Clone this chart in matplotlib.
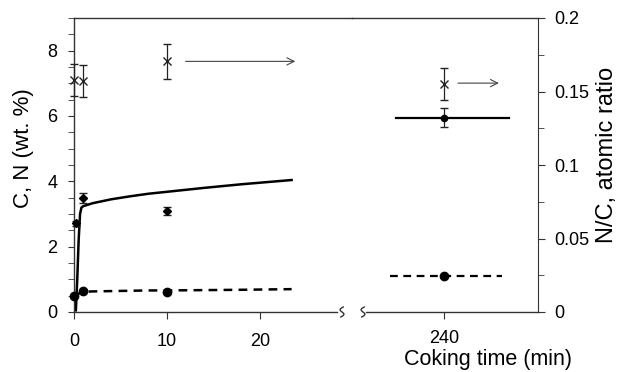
import numpy as np
import matplotlib
matplotlib.use('Agg')
import matplotlib.pyplot as plt

plt.rcParams['font.family'] = ['Liberation Sans', 'DejaVu Sans']
plt.rcParams['font.size'] = 13

# measured points, short coking times (min)
c_t = [0.2, 1, 10]
c_wt = [2.72, 3.49, 3.09]
c_err = [0.08, 0.15, 0.12]
n_t = [0, 1, 10]
n_wt = [0.49, 0.63, 0.60]
nc_t = [0, 1, 10]
nc_ratio = [0.158, 0.157, 0.1705]
nc_err = [0.011, 0.011, 0.012]

# measured points at 240 min
t_long = [240]
c_long = [5.95]
c_long_err = [0.29]
n_long = [1.1]
nc_long = [0.155]
nc_long_err = [0.011]

# model curves
model_t = [0.2, 0.35, 0.5, 0.65, 0.8, 1, 2, 4, 6, 8, 10, 14, 18, 23.4]
model_c = [0.05, 1.0, 2.2, 3.0, 3.2, 3.24, 3.33, 3.45, 3.54, 3.62, 3.68, 3.8, 3.91, 4.04]
model_n = [0.45, 0.52, 0.56, 0.59, 0.61, 0.62, 0.63, 0.64, 0.65, 0.66, 0.66, 0.67, 0.68, 0.70]
model_long_c_t = [234.8, 247.0]
model_long_c = [5.95, 5.95]
model_long_n_t = [234.2, 246.2]
model_long_n = [1.1, 1.1]

W, H = 619, 372
fig = plt.figure(figsize=(W / 100, H / 100), dpi=100)

x0, xb, x1 = 74, 352, 538
ytop, ybot = 18, 312
bottom = (H - ybot) / H
height = (ybot - ytop) / H
scale = 9.3  # px per minute
ax1 = fig.add_axes([x0 / W, bottom, (xb - x0) / W, height])
ax2 = fig.add_axes([xb / W, bottom, (x1 - xb) / W, height])
xlim1 = (0, (xb - x0) / scale)
xlim2 = (240 - (444 - xb) / scale, 240 + (x1 - 444) / scale)

for ax in (ax1, ax2):
    ax.set_ylim(0, 9)
    ax.patch.set_visible(False)
    for s in ax.spines.values():
        s.set_linewidth(1.0)
        s.set_color('#333333')
ax1.set_xlim(*xlim1)
ax2.set_xlim(*xlim2)

ax1.spines['right'].set_visible(False)
ax2.spines['left'].set_visible(False)
ax2.spines['right'].set_visible(False)
ax1.spines['bottom'].set_bounds(0, (337 - x0) / scale)
ax2.spines['bottom'].set_bounds(xlim2[0] + (366 - xb) / scale, xlim2[1])

ax1.set_yticks([0, 2, 4, 6, 8])
ax1.set_yticks(np.arange(0, 9.01, 0.5), minor=True)
ax1.set_xticks([0, 10, 20])
ax1.tick_params(axis='y', which='both', direction='out', length=4, pad=8, color='#333333')
ax1.tick_params(axis='x', direction='out', length=5, pad=10, color='#333333')
ax2.set_yticks([])
ax2.set_xticks([240])
ax2.tick_params(axis='x', direction='out', length=5, pad=8, color='#333333')

# ratio axes
r1 = ax1.twinx()
r1.set_ylim(0, 0.2)
r1.set_xlim(*xlim1)
r1.axis('off')
r2 = ax2.twinx()
r2.set_ylim(0, 0.2)
r2.set_xlim(*xlim2)
for k in ['left', 'top', 'bottom']:
    r2.spines[k].set_visible(False)
r2.spines['right'].set_color('#333333')
r2.set_yticks([0, 0.05, 0.1, 0.15, 0.2])
r2.set_yticklabels(['0', '0.05', '0.1', '0.15', '0.2'])
r2.set_yticks(np.arange(0, 0.201, 0.025), minor=True)
r2.tick_params(axis='y', which='major', direction='out', length=5, pad=7, color='#333333')
r2.tick_params(axis='y', which='minor', direction='out', length=4, color='#333333')

# model curves
ax1.plot(model_t, model_c, '-', color='black', lw=1.8)
ax1.plot(model_t, model_n, '--', color='black', lw=1.8, dashes=(3.5, 2.5))
ax2.plot(model_long_c_t, model_long_c, '-', color='black', lw=1.6)
ax2.plot(model_long_n_t, model_long_n, '--', color='black', lw=1.6, dashes=(3.5, 2.5))

# data
ax1.errorbar(c_t, c_wt, yerr=c_err, fmt='D', ms=4.5, color='black', ecolor='#222222',
             elinewidth=0.9, capsize=3, clip_on=False, zorder=5)
ax1.plot(n_t, n_wt, 'o', ms=6, color='black', clip_on=False, zorder=5)
ax2.errorbar(t_long, c_long, yerr=c_long_err, fmt='o', ms=4.5, color='black',
             ecolor='#222222', elinewidth=0.9, capsize=3, zorder=5)
ax2.plot(t_long, n_long, 'o', ms=6, color='black', zorder=5)

r1.errorbar(nc_t, nc_ratio, yerr=nc_err, fmt='x', ms=6, mew=1.0, color='#222222',
            elinewidth=0.9, capsize=3, clip_on=False)
r2.errorbar(t_long, nc_long, yerr=nc_long_err, fmt='x', ms=6, mew=1.0, color='#222222',
            elinewidth=0.9, capsize=3)

arrow = dict(arrowstyle='->', color='#444444', lw=0.8)
r1.annotate('', xy=(24.1, 0.1705), xytext=(11.7, 0.1705), arrowprops=arrow)
r2.annotate('', xy=(246.2, 0.1557), xytext=(241.2, 0.1557), arrowprops=arrow)

# axis break marks
yy = np.linspace(-5, 5, 30)
for xc in (342, 363):
    xx = xc - 2.5 * np.sin(np.pi * yy / 5) + 0.25 * yy
    fig.add_artist(plt.Line2D(xx / W, (H - ybot + yy) / H, color='#333333', lw=1.0))

fig.text(23 / W, (H - 148) / H, 'C, N (wt. %)', rotation=90, ha='center', va='center',
         fontsize=16)
fig.text(607 / W, (H - 155) / H, 'N/C, atomic ratio', rotation=90, ha='center',
         va='center', fontsize=17)
fig.text(488 / W, (H - 360) / H, 'Coking time (min)', ha='center', va='center', fontsize=15.5)

fig.savefig('out.png', dpi=100)
